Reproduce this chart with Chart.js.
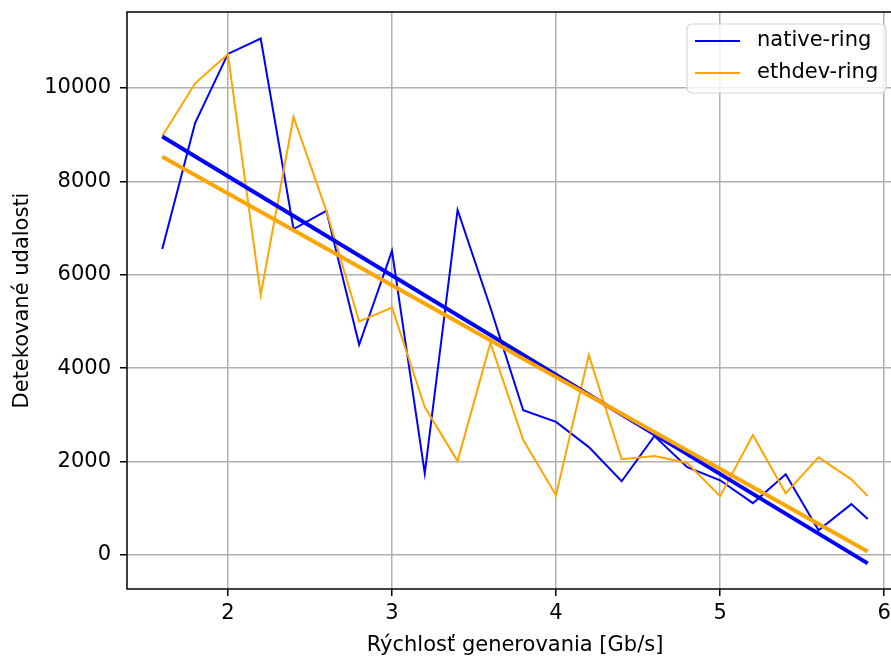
<!DOCTYPE html>
<html>
<head>
<meta charset="utf-8">
<script src="https://cdn.jsdelivr.net/npm/chart.js@4/dist/chart.umd.min.js"></script>
<style>
  body { margin: 0; background: #fff; }
  #wrap { width: 891px; height: 657px; overflow: hidden; position: relative; }
  canvas { display: block; }
</style>
</head>
<body>
<div id="wrap"><canvas id="chart" width="905" height="657"></canvas></div>
<script>
// rychlost generovania [Gb/s]
const speeds = [1.6, 1.8, 2.0, 2.2, 2.4, 2.6, 2.8, 3.0, 3.2, 3.4, 3.6, 3.8, 4.0, 4.2, 4.4, 4.6, 4.8, 5.0, 5.2, 5.4, 5.6, 5.8, 5.9];
const nativeRing = [6550, 9250, 10730, 11060, 6980, 7370, 4500, 6510, 1750, 7390, 5300, 3100, 2850, 2310, 1580, 2550, 1880, 1600, 1110, 1730, 530, 1090, 770];
const ethdevRing = [8970, 10100, 10720, 5570, 9380, 7370, 5000, 5300, 3170, 2010, 4540, 2460, 1280, 4280, 2050, 2120, 1970, 1260, 2570, 1320, 2090, 1620, 1260];

// linearne trendy (konce ciar)
const fitX = [1.6, 5.9];
const nativeFit = [8960, -180];
const ethdevFit = [8530, 75];

const xTicks = [2, 3, 4, 5, 6];
const yTicks = [0, 2000, 4000, 6000, 8000, 10000];

const FONT = 'DejaVu Sans';
const FSIZE = 21;
const BLUE = '#0000ff';
const ORANGE = '#ffa500';

const toPoints = (xs, ys) => xs.map((x, i) => ({ x: x, y: ys[i] }));

// bez automatickeho odsadenia od popiskov
const noPad = axis => {
    axis.paddingTop = 0;
    axis.paddingBottom = 0;
    axis.paddingLeft = 0;
    axis.paddingRight = 0;
};

// ramik okolo grafu + legenda
const framePlugin = {
    id: 'frame',
    afterDraw(chart) {
        const { ctx, chartArea: a } = chart;
        ctx.save();
        ctx.strokeStyle = '#000';
        ctx.lineWidth = 1.5;
        ctx.strokeRect(a.left, a.top, a.right - a.left, a.bottom - a.top);

        // legenda
        const bx = 687, by = 24, bw = 199, bh = 69, r = 5;
        ctx.beginPath();
        ctx.roundRect(bx, by, bw, bh, r);
        ctx.fillStyle = 'rgba(255,255,255,0.8)';
        ctx.fill();
        ctx.strokeStyle = '#d5d5d5';
        ctx.lineWidth = 1.2;
        ctx.stroke();

        const items = chart.data.datasets.filter(d => d.inLegend);
        items.forEach((d, i) => {
            const y = 41 + i * 32;
            ctx.beginPath();
            ctx.moveTo(695, y);
            ctx.lineTo(740, y);
            ctx.strokeStyle = d.borderColor;
            ctx.lineWidth = 2;
            ctx.stroke();
            ctx.fillStyle = '#000';
            ctx.font = FSIZE + 'px "' + FONT + '"';
            ctx.textBaseline = 'middle';
            ctx.textAlign = 'left';
            ctx.fillText(d.label, 757, y);
        });
        ctx.restore();
    }
};

const ctx = document.getElementById('chart').getContext('2d');
new Chart(ctx, {
    type: 'line',
    data: {
        datasets: [
            { label: 'native-ring', data: toPoints(speeds, nativeRing), borderColor: BLUE, borderWidth: 2, order: 4, inLegend: true },
            { label: 'ethdev-ring', data: toPoints(speeds, ethdevRing), borderColor: ORANGE, borderWidth: 2, order: 3, inLegend: true },
            { label: 'native-fit', data: toPoints(fitX, nativeFit), borderColor: BLUE, borderWidth: 4, order: 2 },
            { label: 'ethdev-fit', data: toPoints(fitX, ethdevFit), borderColor: ORANGE, borderWidth: 4, order: 1 }
        ]
    },
    options: {
        responsive: false,
        animation: false,
        events: [],
        elements: { point: { radius: 0 }, line: { tension: 0, fill: false, borderCapStyle: 'butt' } },
        layout: { padding: { top: 12, right: 2, left: 0, bottom: 0 } },
        plugins: { legend: { display: false }, tooltip: { enabled: false } },
        scales: {
            x: {
                type: 'linear',
                min: 1.385,
                max: 6.115,
                afterBuildTicks: axis => { axis.ticks = xTicks.map(v => ({ value: v })); },
                afterFit: axis => { axis.height = 68; noPad(axis); },
                grid: { color: '#b0b0b0', lineWidth: 1.5, tickLength: 7, tickColor: '#000', tickWidth: 1.5 },
                border: { display: false },
                ticks: { color: '#000', padding: 5, maxRotation: 0, font: { family: FONT, size: FSIZE }, callback: v => String(v) },
                title: { display: true, text: 'Rýchlosť generovania [Gb/s]', color: '#000', font: { family: FONT, size: FSIZE, lineHeight: 1 }, padding: { top: 0, bottom: 1 } }
            },
            y: {
                type: 'linear',
                min: -728,
                max: 11627,
                afterBuildTicks: axis => { axis.ticks = yTicks.map(v => ({ value: v })); },
                afterFit: axis => { axis.width = 127; noPad(axis); },
                grid: { color: '#b0b0b0', lineWidth: 1.5, tickLength: 7, tickColor: '#000', tickWidth: 1.5 },
                border: { display: false },
                ticks: { color: '#000', padding: 9, font: { family: FONT, size: FSIZE }, callback: v => String(v) },
                title: { display: true, text: 'Detekované udalosti', color: '#000', font: { family: FONT, size: FSIZE, lineHeight: 1 }, padding: { top: 12, bottom: 0 } }
            }
        }
    },
    plugins: [framePlugin]
});
</script>
</body>
</html>
